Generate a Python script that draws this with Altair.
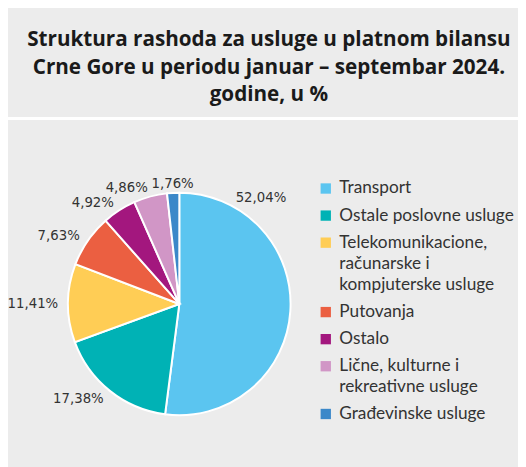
import altair as alt
import pandas as pd

categories = [
    "Transport",
    "Ostale poslovne usluge",
    "Telekomunikacione, računarske i kompjuterske usluge",
    "Putovanja",
    "Ostalo",
    "Lične, kulturne i rekreativne usluge",
    "Građevinske usluge",
]
legend_lines = [
    ["Transport"],
    ["Ostale poslovne usluge"],
    ["Telekomunikacione,", "računarske i", "kompjuterske usluge"],
    ["Putovanja"],
    ["Ostalo"],
    ["Lične, kulturne i", "rekreativne usluge"],
    ["Građevinske usluge"],
]
values = [52.04, 17.38, 11.41, 7.63, 4.92, 4.86, 1.76]
value_labels = ["52,04%", "17,38%", "11,41%", "7,63%", "4,92%", "4,86%", "1,76%"]
colors = ["#5bc5f0", "#00b2b5", "#ffcd55", "#eb5f41", "#a3177e", "#d196c6", "#3b88c9"]
title_lines = [
    "Struktura rashoda za usluge u platnom bilansu",
    "Crne Gore u periodu januar – septembar 2024.",
    "godine, u %",
]

W, H = 518, 459
CX, CY = 174, 297
R = 113
LABEL_R = 123

# where along each slice its label sits (the big slice's label is pushed up)
label_frac = [0.148, 0.5, 0.5, 0.5, 0.5, 0.5, 0.5]

total = sum(values)
rows = []
cum = 0.0
for i, (c, v, lab) in enumerate(zip(categories, values, value_labels)):
    mid = cum + v * label_frac[i]
    deg = mid / total * 360
    side = "right" if 10 < deg < 170 else ("left" if 190 < deg < 350 else "top")
    rows.append({"cat": c, "value": v, "order": i, "label": lab,
                 "mid": mid, "side": side})
    cum += v
df = pd.DataFrame(rows)

expr_parts = []
for c, lines in zip(categories, legend_lines):
    arr = "[" + ",".join("'" + l + "'" for l in lines) + "]"
    expr_parts.append(f"datum.label == '{c}' ? {arr} : ")
label_expr = "".join(expr_parts) + "datum.label"

color_scale = alt.Scale(domain=categories, range=colors)
theta_scale = alt.Scale(domain=[0, total])

base = alt.Chart(df)

pie = base.mark_arc(radius=R, stroke="white", strokeWidth=2).encode(
    theta=alt.Theta("value:Q", stack=True, scale=theta_scale),
    order=alt.Order("order:Q"),
    color=alt.Color(
        "cat:N",
        scale=color_scale,
        sort=categories,
        legend=alt.Legend(
            title=None,
            orient="none",
            legendX=314,
            legendY=171,
            symbolType="square",
            symbolSize=110,
            symbolStrokeWidth=0,
            labelFont="Lato",
            labelFontSize=17.5,
            labelColor="#333333",
            labelLimit=400,
            labelOffset=5,
            rowPadding=8.5,
            labelExpr=label_expr,
        ),
    ),
    x=alt.value(CX),
    y=alt.value(CY),
)

LABEL_FONT = "DejaVu Sans Condensed, Lato, sans-serif"


def label_layer(side, align):
    return base.transform_filter(alt.datum.side == side).mark_text(
        radius=LABEL_R, font=LABEL_FONT, fontSize=15, color="#333333",
        align=align, baseline="middle",
    ).encode(
        theta=alt.Theta("mid:Q", scale=theta_scale),
        text="label:N",
        x=alt.value(CX),
        y=alt.value(CY),
    )


labels_r = label_layer("right", "left")
labels_l = label_layer("left", "right")
labels_t = label_layer("top", "center")

sep = base.mark_rule(color="white", strokeWidth=3).encode(
    x=alt.value(0), x2=alt.value(W), y=alt.value(108.5)
)

title = alt.Chart(pd.DataFrame({"t": [0]})).mark_text(
    font="Open Sans",
    fontWeight="bold",
    fontSize=21,
    lineHeight=28,
    color="#1a1a1a",
    baseline="middle",
    align="center",
).encode(
    x=alt.value(265),
    y=alt.value(29),
    text=alt.value(title_lines),
)

chart = (
    alt.layer(sep, pie, labels_r, labels_l, labels_t, title)
    .resolve_scale(theta="independent")
    .properties(
        width=W,
        height=H,
        background="#ececec",
        padding=0,
        autosize=alt.AutoSizeParams(type="none"),
    )
    .configure(style={"guide-label": {"lineHeight": 21.5}})
    .configure_view(strokeWidth=0)
)

chart.save("out.html", embed_options={"renderer": "svg", "actions": False})
